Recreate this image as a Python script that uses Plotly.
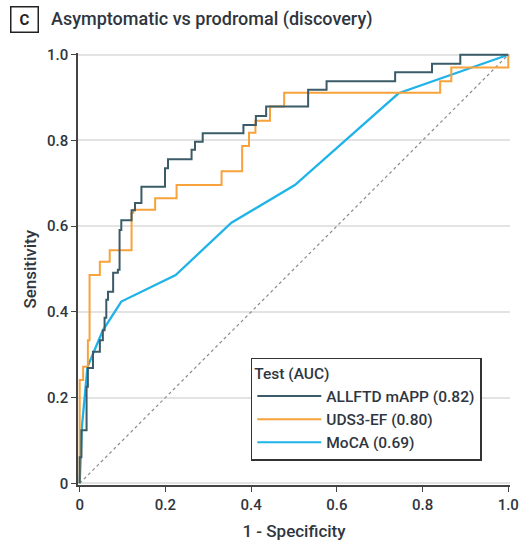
import plotly.graph_objects as go

# ---- data ----
allftd_fpr = [0, 0, 0.004, 0.016, 0.019, 0.031, 0.047, 0.054, 0.058, 0.062, 0.066, 0.078, 0.089,
              0.093, 0.097, 0.121, 0.129, 0.144, 0.199, 0.206, 0.261, 0.269, 0.287, 0.382, 0.411,
              0.435, 0.533, 0.576, 0.736, 0.822, 0.888, 1.0]
allftd_tpr = [0, 0.061, 0.124, 0.225, 0.269, 0.307, 0.334, 0.357, 0.386, 0.428, 0.447, 0.491, 0.498,
              0.591, 0.614, 0.637, 0.654, 0.692, 0.735, 0.756, 0.778, 0.797, 0.817, 0.836, 0.857,
              0.879, 0.918, 0.938, 0.959, 0.979, 1.0, 1.0]

uds3_fpr = [0, 0, 0.008, 0.019, 0.023, 0.047, 0.070, 0.121, 0.125, 0.176, 0.226, 0.331, 0.379,
            0.395, 0.410, 0.444, 0.477, 0.841, 0.867, 1.0]
uds3_tpr = [0, 0.241, 0.272, 0.334, 0.486, 0.517, 0.544, 0.631, 0.638, 0.665, 0.696, 0.728, 0.787,
            0.818, 0.846, 0.879, 0.911, 0.938, 0.970, 1.0]

moca_fpr = [0, 0.005, 0.018, 0.054, 0.097, 0.224, 0.354, 0.502, 0.744, 1.0]
moca_tpr = [0, 0.13, 0.271, 0.357, 0.424, 0.486, 0.608, 0.696, 0.910, 1.0]

ref_line = [0, 1]

series_names = ["ALLFTD mAPP (0.82)", "UDS3-EF (0.80)", "MoCA (0.69)"]
colors = ["#3b5b68", "#f7a23a", "#1fb3e8"]

tick_vals = [0, 0.2, 0.4, 0.6, 0.8, 1.0]
tick_text = ["0", "0.2", "0.4", "0.6", "0.8", "1.0"]

FONT = "Roboto, Arial, sans-serif"
TXT = "#2f3640"

fig = go.Figure()

fig.add_trace(go.Scatter(x=ref_line, y=ref_line, mode="lines",
                         line=dict(color="#8a8a8a", width=1.2, dash="dot"),
                         showlegend=False, hoverinfo="skip"))

fig.add_trace(go.Scatter(x=moca_fpr, y=moca_tpr, mode="lines", name=series_names[2],
                         line=dict(color=colors[2], width=2.3), showlegend=False))
fig.add_trace(go.Scatter(x=uds3_fpr, y=uds3_tpr, mode="lines", name=series_names[1],
                         line=dict(color=colors[1], width=2, shape="hv"), showlegend=False))
fig.add_trace(go.Scatter(x=allftd_fpr, y=allftd_tpr, mode="lines", name=series_names[0],
                         line=dict(color=colors[0], width=2, shape="hv"), showlegend=False))

# legend entries in the reference order
for name, col in zip(series_names, colors):
    fig.add_trace(go.Scatter(x=[None], y=[None], mode="lines", name=name,
                             line=dict(color=col, width=2)))

fig.update_layout(
    width=519, height=541, autosize=False,
    margin=dict(l=78, r=9, t=53, b=56),
    plot_bgcolor="white", paper_bgcolor="white",
    font=dict(family=FONT, size=15, color=TXT, weight=500),
    legend=dict(
        title=dict(text="Test (AUC)", font=dict(size=15.5, color=TXT, weight=500)),
        x=0.40, xanchor="left", y=0.056, yanchor="bottom",
        bordercolor="#333333", borderwidth=1.5, bgcolor="white",
        font=dict(size=15.5, color=TXT, weight=500), tracegroupgap=0, itemwidth=64,
    ),
    xaxis=dict(range=[-0.004, 1.004], tickvals=tick_vals, ticktext=tick_text,
               automargin=False,
               showgrid=False, zeroline=False, showline=True, linecolor="#444",
               linewidth=1.5, ticks="outside", ticklen=5, tickcolor="#444",
               title=dict(text="1 - Specificity", font=dict(size=17, color=TXT)),
               tickfont=dict(size=15, color=TXT)),
    yaxis=dict(range=[-0.004, 1.004], tickvals=tick_vals, ticktext=tick_text,
               automargin=False,
               showgrid=True, gridcolor="#e3e3e3", gridwidth=1.5, zeroline=False,
               showline=True, linecolor="#444", linewidth=1.5, ticks="outside",
               ticklen=5, tickcolor="#444",
               tickfont=dict(size=15, color=TXT)),
    annotations=[
        dict(text="<b>C</b>", xref="paper", yref="paper", x=-0.125, y=1.077,
             xanchor="center", yanchor="middle",
             showarrow=False, font=dict(size=15, color="#222"),
             bordercolor="#222", borderwidth=1.5, borderpad=2, width=22, height=20),
        dict(text="Asymptomatic vs prodromal (discovery)", xref="paper", yref="paper",
             x=-0.068, y=1.078, xanchor="left", yanchor="middle", showarrow=False,
             font=dict(size=18, color=TXT)),
        dict(text="Sensitivity", xref="paper", yref="paper", x=-0.112, y=0.5,
             xanchor="center", yanchor="middle", textangle=-90, showarrow=False,
             font=dict(size=17, color=TXT)),
    ],
)

fig.write_html(
    "out.html",
    config={"displayModeBar": False, "responsive": False},
    post_script="document.body.style.margin='0';document.body.style.overflow='hidden';",
)
